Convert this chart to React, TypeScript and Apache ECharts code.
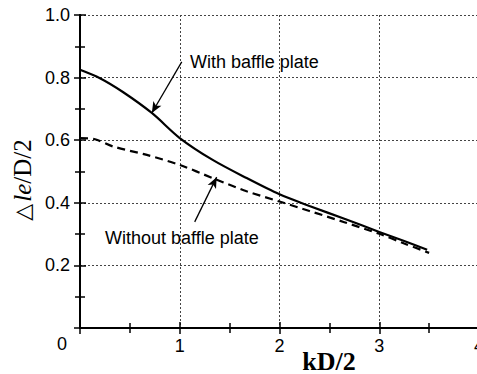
import React, { useEffect, useRef } from "react";
import * as echarts from "echarts";

const kdWith = [0, 0.2, 0.43, 0.72, 1.0, 1.33, 1.67, 2.0, 2.3, 2.65, 3.0, 3.25, 3.48];
const valWith = [0.825, 0.798, 0.754, 0.687, 0.607, 0.537, 0.479, 0.427, 0.39, 0.349, 0.307, 0.278, 0.25];
const kdWithout = [0, 0.15, 0.33, 0.67, 1.0, 1.33, 1.67, 2.0, 2.3, 2.65, 3.0, 3.25, 3.5];
const valWithout = [0.607, 0.603, 0.58, 0.553, 0.521, 0.479, 0.437, 0.404, 0.374, 0.338, 0.301, 0.27, 0.24];
const xTicks = ["0", "1", "2", "3", "4"];
const yTicks = ["0", "0.2", "0.4", "0.6", "0.8", "1.0"];

const arrowWith = [[1.02, 0.85], [0.72, 0.687]];
const arrowWithout = [[1.15, 0.339], [1.37, 0.482]];

export default function App() {
  const ref = useRef<HTMLDivElement>(null);
  useEffect(() => {
    const chart = echarts.init(ref.current!, undefined, { renderer: "svg" });
    const gridLine = { show: true, lineStyle: { color: "#444", width: 1, type: [2, 2] as any } };
    const font = "Liberation Sans, Arial, sans-serif";
    const serif = "Liberation Serif, Times New Roman, serif";
    chart.setOption({
      animation: false,
      backgroundColor: "#fff",
      grid: { left: 80, top: 15, width: 399, height: 313, outerBoundsMode: "none", containLabel: false },
      xAxis: [
        {
          type: "value", min: 0, max: 4, interval: 1,
          axisLine: { show: true, lineStyle: { color: "#000", width: 2 } },
          axisTick: { show: true, inside: true, length: 6, lineStyle: { color: "#000", width: 1.5 } },
          minorTick: { show: true, splitNumber: 2, length: 5, lineStyle: { color: "#000", width: 1.5 } },
          splitLine: gridLine,
          axisLabel: {
            margin: 9, fontSize: 18, color: "#000", fontFamily: font,
            formatter: (v: number) => (v === 0 ? "" : xTicks[Math.round(v)]),
          },
        },
        {
          type: "value", min: 0, max: 4, interval: 1, position: "top",
          axisLine: { show: true, lineStyle: { color: "#000", width: 2 } },
          axisTick: { show: true, inside: true, length: 6, lineStyle: { color: "#000", width: 1.5 } },
          minorTick: { show: true, splitNumber: 2, length: 5, lineStyle: { color: "#000", width: 1.5 } },
          splitLine: { show: false },
          axisLabel: { show: false },
        },
      ],
      yAxis: [
        {
          type: "value", min: 0, max: 1, interval: 0.2,
          axisLine: { show: true, lineStyle: { color: "#000", width: 2 } },
          axisTick: { show: true, inside: true, length: 6, lineStyle: { color: "#000", width: 1.5 } },
          minorTick: { show: true, splitNumber: 2, length: 5, lineStyle: { color: "#000", width: 1.5 } },
          splitLine: gridLine,
          axisLabel: {
            margin: 10, fontSize: 18, color: "#000", fontFamily: font,
            formatter: (v: number) => {
              const i = Math.round(v * 5);
              return i === 0 ? "" : yTicks[i];
            },
          },
        },
        {
          type: "value", min: 0, max: 1, interval: 0.2, position: "right",
          axisLine: { show: true, lineStyle: { color: "#000", width: 2 } },
          axisTick: { show: true, inside: true, length: 6, lineStyle: { color: "#000", width: 1.5 } },
          minorTick: { show: true, splitNumber: 2, length: 5, lineStyle: { color: "#000", width: 1.5 } },
          splitLine: { show: false },
          axisLabel: { show: false },
        },
      ],
      series: [
        {
          name: "With baffle plate",
          type: "line",
          smooth: 0.3,
          showSymbol: false,
          data: kdWith.map((x, i) => [x, valWith[i]]),
          lineStyle: { color: "#000", width: 2.2 },
          z: 5,
          markLine: {
            silent: true,
            symbol: ["none", "arrow"],
            symbolSize: [7, 11],
            label: { show: false },
            lineStyle: { color: "#000", width: 1.3, type: "solid" },
            data: [
              [{ coord: arrowWith[0] }, { coord: arrowWith[1] }],
              [{ coord: arrowWithout[0] }, { coord: arrowWithout[1] }],
            ],
          },
        },
        {
          name: "Without baffle plate",
          type: "line",
          smooth: 0.3,
          showSymbol: false,
          data: kdWithout.map((x, i) => [x, valWithout[i]]),
          lineStyle: { color: "#000", width: 2.2, type: [8, 5] },
          z: 4,
        },
      ],
      graphic: [
        {
          type: "text", left: 57, top: 335,
          style: { text: "0", fontSize: 18, fill: "#000", fontFamily: font },
        },
        {
          type: "text", x: 190, y: 62,
          style: { text: "With baffle plate", fontSize: 18, fill: "#000", fontFamily: font, verticalAlign: "middle" },
        },
        {
          type: "text", x: 105, y: 238,
          style: { text: "Without baffle plate", fontSize: 18, fill: "#000", fontFamily: font, verticalAlign: "middle" },
        },
        {
          type: "text", x: 329, y: 361,
          style: {
            text: "kD/2", fontSize: 26, fontWeight: "bold", fill: "#000",
            fontFamily: serif, align: "center", verticalAlign: "middle",
          },
        },
        {
          type: "text", x: 22, y: 180, rotation: Math.PI / 2,
          style: {
            text: "{t|△}{b|le}{a|/D/2}",
            align: "center", verticalAlign: "middle",
            rich: {
              t: { fontSize: 22, fill: "#000", fontFamily: "DejaVu Sans, sans-serif", padding: [0, 2, 0, 0] },
              a: { fontSize: 25, fill: "#000", fontFamily: serif },
              b: { fontSize: 25, fill: "#000", fontStyle: "italic", fontFamily: serif },
            },
          },
        },
      ],
    });
    return () => chart.dispose();
  }, []);
  return (
    <div
      ref={ref}
      style={{ position: "fixed", left: 0, top: 0, width: 477, height: 374, background: "#fff" }}
    />
  );
}
